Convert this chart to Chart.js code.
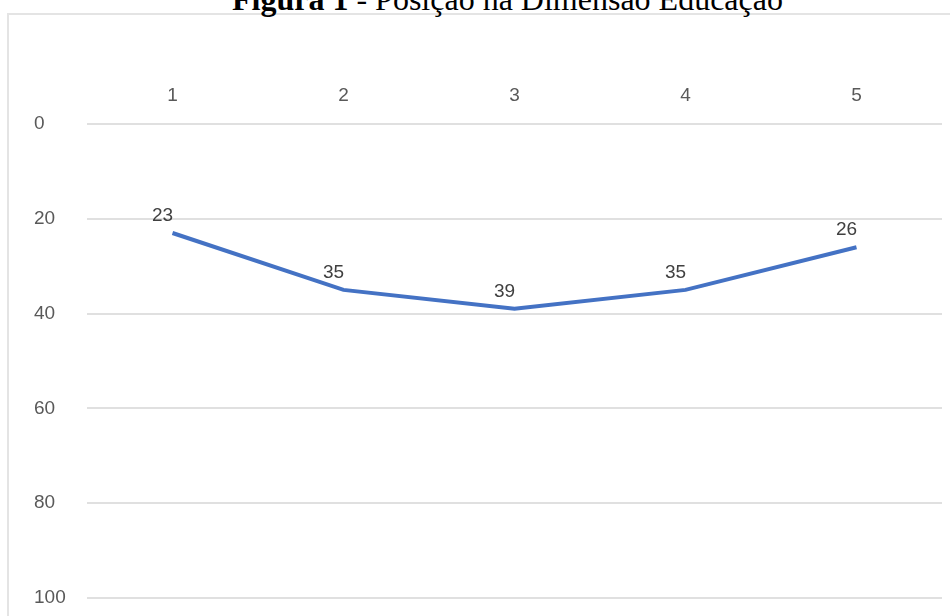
<!DOCTYPE html>
<html lang="pt">
<head>
<meta charset="utf-8">
<title>Figura 1 - Posição na Dimensão Educação</title>
<script src="https://cdn.jsdelivr.net/npm/chart.js@4"></script>
<style>
  html, body { margin: 0; padding: 0; background: #ffffff; overflow: hidden; }
  body { width: 950px; height: 616px; position: relative; }
  #frame {
    position: absolute; left: 7px; top: 13px; width: 1000px; height: 700px;
    border: 2px solid #e4e4e4; box-sizing: border-box;
  }
  #title {
    position: absolute; top: -17px; left: 232px; white-space: nowrap;
    font-family: "Liberation Serif", "Times New Roman", serif; font-size: 32px; line-height: 1;
    color: #000000;
  }
  #title b { font-weight: bold; }
  #wrap { position: absolute; left: 0; top: 0; width: 950px; height: 616px; }
</style>
</head>
<body>
<div id="frame"></div>
<div id="title"><b>Figura 1</b> - Posição na Dimensão Educação</div>
<div id="wrap"><canvas id="chart" width="950" height="616"></canvas></div>
<script>
// Ranking positions in the education dimension
const categories = ['1', '2', '3', '4', '5'];
const positions = [23, 35, 39, 35, 26];
const yTicks = [0, 20, 40, 60, 80, 100];

const tickFont = { family: '"Liberation Sans", Arial, sans-serif', size: 19 };

// Writes each point's value just above it
const valueLabels = {
  id: 'valueLabels',
  afterDatasetsDraw(chart) {
    const ctx = chart.ctx;
    const meta = chart.getDatasetMeta(0);
    ctx.save();
    ctx.font = '19px "Liberation Sans", Arial, sans-serif';
    ctx.fillStyle = '#404040';
    ctx.textAlign = 'center';
    ctx.textBaseline = 'bottom';
    meta.data.forEach((pt, i) => {
      ctx.fillText(String(chart.data.datasets[0].data[i]), pt.x - 10, pt.y - 8);
    });
    ctx.restore();
  }
};

new Chart(document.getElementById('chart'), {
  type: 'line',
  data: {
    labels: categories,
    datasets: [{
      data: positions,
      borderColor: '#4472C4',
      borderWidth: 4,
      pointRadius: 0,
      pointHoverRadius: 0,
      tension: 0,
      fill: false
    }]
  },
  options: {
    responsive: false,
    animation: false,
    events: [],
    layout: { padding: { top: 70, right: 8, bottom: 18, left: 34 } },
    plugins: {
      legend: { display: false },
      tooltip: { enabled: false },
      title: { display: false }
    },
    scales: {
      x: {
        type: 'category',
        position: 'top',
        offset: true,
        grid: { display: false, drawTicks: false },
        border: { display: false },
        ticks: { color: '#595959', font: tickFont, padding: 17, maxRotation: 0 },
        afterFit(scale) { scale.height = 54; }
      },
      y: {
        reverse: true,
        min: 0,
        max: 100,
        afterBuildTicks(scale) { scale.ticks = yTicks.map(v => ({ value: v })); },
        grid: { color: '#e0e0e0', lineWidth: 2, drawTicks: false },
        border: { display: false },
        ticks: { color: '#595959', font: tickFont, crossAlign: 'far', padding: 0 },
        afterFit(scale) { scale.width = 53; }
      }
    }
  },
  plugins: [valueLabels]
});
</script>
</body>
</html>
